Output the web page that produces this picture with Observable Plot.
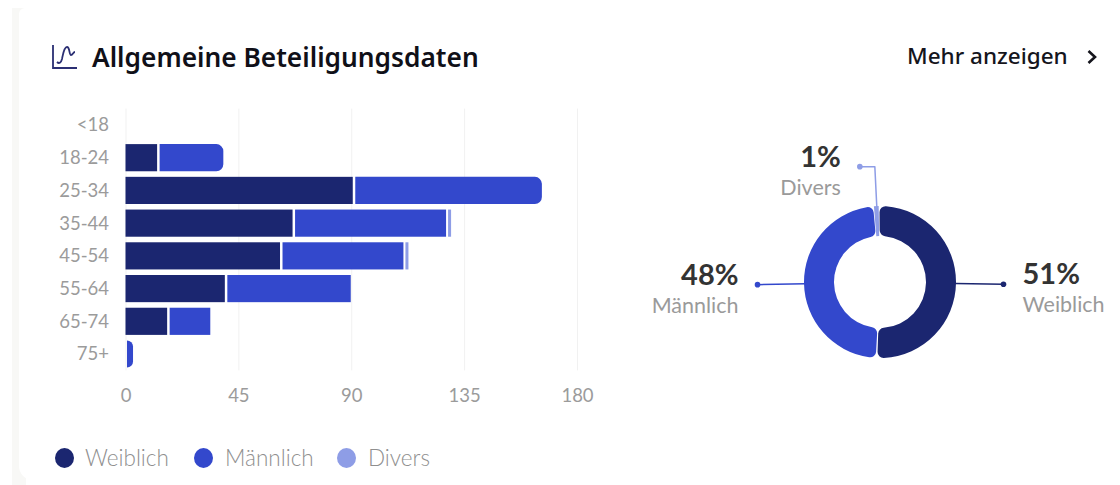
<!DOCTYPE html>
<html lang="de">
<head>
<meta charset="utf-8">
<script src="https://cdn.jsdelivr.net/npm/d3@7"></script>
<script src="https://cdn.jsdelivr.net/npm/@observablehq/plot@0.6"></script>
<style>
html,body{margin:0;padding:0;background:#fff;}
body{width:1120px;height:485px;overflow:hidden;font-family:Lato,"Noto Sans",sans-serif;position:relative;}
#stripe{position:absolute;left:12px;top:8px;width:14px;height:477px;background:#f8f8f6;}
#card{position:absolute;left:19px;top:8px;width:1101px;height:472px;background:#fff;border-radius:6px 0 0 14px;}
#wrap{position:absolute;left:0;top:0;width:1120px;height:485px;}
#head{position:relative;height:100px;}
#icon{position:absolute;left:52px;top:45px;}
#title{position:absolute;left:92px;top:40px;font-family:"Noto Sans",Lato,sans-serif;font-size:26.300px;line-height:34px;font-weight:600;color:#101018;white-space:nowrap;}
#more{position:absolute;left:907px;top:41px;font-family:"Noto Sans",Lato,sans-serif;font-size:22.500px;line-height:30px;font-weight:500;color:#15151c;white-space:nowrap;}
#chev{position:absolute;left:1086px;top:49px;}
#charts{display:flex;height:320px;}
#legend{position:relative;height:65px;}
.li{position:absolute;top:26px;font-size:22.5px;line-height:24px;color:#8f8f8f;font-weight:300;white-space:nowrap;}
.sw{position:absolute;top:28px;width:19px;height:20px;border-radius:50%;}
svg{display:block;}
</style>
</head>
<body>
<div id="stripe"></div>
<div id="card"></div>
<div id="wrap">
  <div id="head">
    <svg id="icon" width="25" height="24" viewBox="0 0 25 24" fill="none" stroke="#2b2f73" stroke-width="1.8"><path d="M1 0V23H25"/><path d="M5 17C7 19 9 18 10 14C11 9 12 2 15 2C18 2 17 10 19 10C21 10 21 7 23 7"/></svg>
    <div id="title">Allgemeine Beteiligungsdaten</div>
    <div id="more">Mehr anzeigen</div>
    <svg id="chev" width="12" height="16" viewBox="0 0 12 16" fill="none" stroke="#15151c" stroke-width="2.6"><path d="M2.500 2L9 8L2.500 14"/></svg>
  </div>
  <div id="charts"><div id="bars"></div><div id="donut"></div></div>
  <div id="legend"></div>
</div>
<script>
const ages = ["<18","18-24","25-34","35-44","45-54","55-64","65-74","75+"];
const genders = ["Weiblich","Männlich","Divers"];
const colors = ["#1b2670","#3348cc","#8e9de6"];
const weiblich = [0,13,91,67,62,40,17,0];
const maennlich = [0,26,75,61,49,50,17,3];
const divers = [0,0,0,2,2,0,0,0];
const roundedAges = ["18-24","25-34","75+"];
const xTicks = [0,45,90,135,180];
const shares = [51,48,1];

const rows = ages.flatMap((age,i)=>{
  let x = 0;
  return [weiblich[i],maennlich[i],divers[i]].map((v,g)=>{
    const r = {age, gender:genders[g], x1:x, x2:x+v, value:v};
    x += v;
    return r;
  }).filter(r=>r.value>0);
});
const isRound = r => r.gender==="Männlich" && roundedAges.includes(r.age);
const firstRows = rows.filter(r=>r.gender==="Weiblich");
const laterRows = rows.filter(r=>r.gender!=="Weiblich" && !isRound(r));
const roundRows = rows.filter(isRound);

const axisColor = "#9b9b9b";
const barPlot = Plot.plot({
  width:620,height:320,
  marginLeft:125.5,marginRight:43,marginTop:8.6,marginBottom:49.6,
  style:{background:"transparent",fontFamily:"Lato, 'Noto Sans', sans-serif"},
  x:{domain:[0,180],ticks:xTicks,label:null,grid:false},
  y:{domain:ages,label:null,paddingInner:0.17,paddingOuter:0.085,align:0.5,round:false},
  color:{domain:genders,range:colors},
  marks:[
    Plot.ruleX(xTicks,{x:d=>d,stroke:"#f1f1f1",strokeWidth:1}),
    Plot.barX(firstRows,{x1:"x1",x2:"x2",y:"age",fill:"gender",insetRight:1}),
    Plot.barX(laterRows,{x1:"x1",x2:"x2",y:"age",fill:"gender",insetLeft:1.5,insetRight:0.5}),
    Plot.barX(roundRows,{x1:"x1",x2:"x2",y:"age",fill:"gender",insetLeft:1.5,rx2:7}),
    Plot.axisX({ticks:xTicks,tickSize:0,tickPadding:18,fontSize:18.5,label:null,fill:axisColor}),
    Plot.axisY({tickSize:0,tickPadding:17,fontSize:18.5,label:null,fill:axisColor})
  ]
});
document.getElementById("bars").appendChild(barPlot);

// Donut: units of the scales are pixels around the ring's centre
const rOuter = 76, rInner = 46, rLeader = 123, rElbow = 116;
const pie = d3.pie().sort(null).value(d=>d.share).startAngle(-Math.PI/180).endAngle(2*Math.PI-Math.PI/180);
const slices = pie(genders.map((g,i)=>({gender:g,share:shares[i],color:colors[i]})));
const mid = s => (s.startAngle+s.endAngle)/2;
const pol = (a,r) => [r*Math.sin(a),-r*Math.cos(a)];

const leaders = [];
const dots = [];
const labels = [];
slices.forEach(s=>{
  const a = mid(s), g = s.data.gender;
  const anchor = g==="Weiblich" ? "start" : "end";
  let end;
  if (g==="Divers") {
    const e = pol(a,rElbow);
    end = [e[0]-15,e[1]];
    [pol(a,rOuter-1),e,end].forEach(p=>leaders.push({g,px:p[0],py:p[1]}));
  } else {
    end = pol(a,rLeader);
    [pol(a,rOuter-1),end].forEach(p=>leaders.push({g,px:p[0],py:p[1]}));
  }
  dots.push({g,px:end[0],py:end[1]});
  const tx = end[0]+(anchor==="start"?19:-19);
  labels.push({g,px:tx,py:end[1]-9,text:s.data.share+"%",anchor,big:true});
  labels.push({g,px:tx,py:end[1]+21,text:g,anchor,big:false});
});

function ring(index,scales){
  const cx = scales.x(0), cy = scales.y(0);
  const group = d3.create("svg:g").attr("transform",`translate(${cx},${cy})`);
  const pad = Math.PI/180*0.6;
  const arcR = d3.arc().innerRadius(rInner).outerRadius(rOuter).cornerRadius(6);
  const arcS = d3.arc().innerRadius(rInner).outerRadius(rOuter);
  slices.forEach(s=>{
    const small = s.data.gender==="Divers";
    group.append("path")
      .attr("fill",s.data.color)
      .attr("d",small ? arcS(s) : arcR({startAngle:s.startAngle+pad,endAngle:s.endAngle-pad}));
  });
  return group.node();
}

const donutPlot = Plot.plot({
  width:500,height:320,margin:0,
  style:{background:"transparent",fontFamily:"Lato, 'Noto Sans', sans-serif"},
  x:{domain:[-260,240],range:[0,500],axis:null},
  y:{domain:[-182,138],range:[0,320],axis:null},
  color:{domain:genders,range:colors},
  marks:[
    ring,
    Plot.line(leaders,{x:"px",y:"py",z:"g",stroke:"g",strokeWidth:1.5}),
    Plot.dot(dots,{x:"px",y:"py",fill:"g",r:2.8}),
    Plot.text(labels.filter(d=>d.big),{x:"px",y:"py",text:"text",textAnchor:"anchor",fontSize:29,fontWeight:700,fill:"#333333"}),
    Plot.text(labels.filter(d=>!d.big),{x:"px",y:"py",text:"text",textAnchor:"anchor",fontSize:21.500,fontWeight:400,fill:"#9a9a9a"})
  ]
});
d3.select(donutPlot).selectAll("text").each(function(){
  const t = this.textContent;
  const l = labels.find(d=>d.text===t);
  if (l) d3.select(this).attr("text-anchor",l.anchor);
});
document.getElementById("donut").appendChild(donutPlot);

const legend = d3.select("#legend");
const swX = [55,194,337], txX = [85,225,368];
genders.forEach((g,i)=>{
  legend.append("div").attr("class","sw").style("left",swX[i]+"px").style("background",colors[i]);
  legend.append("div").attr("class","li").style("left",txX[i]+"px").text(g);
});
</script>
</body>
</html>
